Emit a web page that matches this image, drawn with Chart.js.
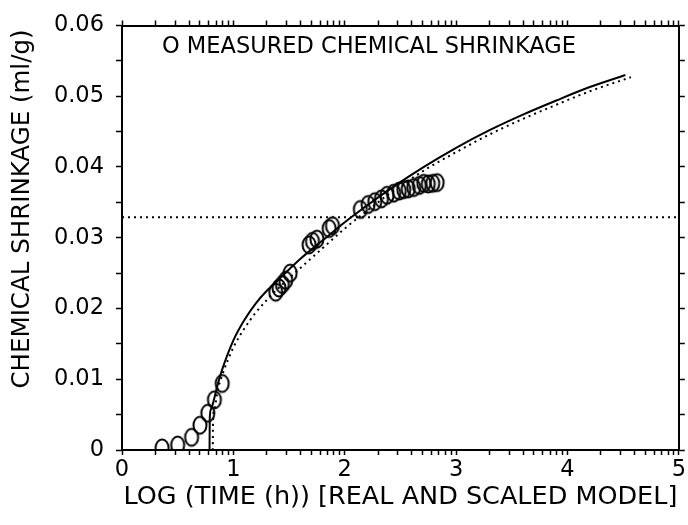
<!DOCTYPE html>
<html>
<head>
<meta charset="utf-8">
<script src="https://cdn.jsdelivr.net/npm/chart.js@4/dist/chart.umd.min.js"></script>
<style>
  body { margin: 0; background: #fff; }
</style>
</head>
<body>
<canvas id="grafico" width="688" height="525"></canvas>
<script>
// measured points, log10(time in h) vs ml/g
const medidoX = [0.36, 0.50, 0.625, 0.70, 0.77, 0.83, 0.90, 1.38, 1.41, 1.44, 1.47, 1.51, 1.68, 1.71, 1.75, 1.86, 1.89, 2.14, 2.21, 2.27, 2.33, 2.38, 2.44, 2.49, 2.53, 2.57, 2.62, 2.67, 2.71, 2.75, 2.79, 2.83];
const medidoY = [0.0003, 0.0007, 0.0018, 0.0035, 0.0052, 0.0071, 0.0094, 0.0223, 0.0229, 0.0234, 0.0240, 0.0250, 0.0290, 0.0295, 0.0298, 0.0313, 0.0317, 0.0340, 0.0347, 0.0351, 0.0355, 0.0360, 0.0363, 0.0366, 0.0368, 0.0369, 0.0371, 0.0374, 0.0377, 0.0376, 0.0377, 0.0378];

// real model (solid)
const realX = [0.786, 0.788, 0.80, 0.83, 0.86, 0.90, 1.00, 1.10, 1.20, 1.30, 1.40, 1.60, 1.80, 2.00, 2.10, 2.40, 2.70, 3.00, 3.30, 3.60, 3.90, 4.20, 4.52];
const realY = [0, 0.0045, 0.0058, 0.0074, 0.0093, 0.0114, 0.0155, 0.0184, 0.0207, 0.0225, 0.0240, 0.0270, 0.0296, 0.0322, 0.0334, 0.0368, 0.0399, 0.0427, 0.0452, 0.0474, 0.0494, 0.0513, 0.0530];

// scaled model (dotted)
const escX = [0.815, 0.817, 0.83, 0.86, 0.90, 1.00, 1.10, 1.20, 1.30, 1.40, 1.60, 1.80, 2.00, 2.20, 2.40, 2.70, 3.00, 3.30, 3.60, 3.90, 4.20, 4.57];
const escY = [0, 0.0040, 0.0058, 0.0085, 0.0106, 0.0145, 0.0172, 0.0194, 0.0212, 0.0228, 0.0257, 0.0285, 0.0313, 0.0338, 0.0362, 0.0394, 0.0421, 0.0446, 0.0468, 0.0488, 0.0507, 0.0527];

// horizontal reference line
const patamarX = [0, 5];
const patamarY = [0.0329, 0.0329];

const xMajor = [0, 1, 2, 3, 4, 5];
const xMinor = [2, 3, 4, 5, 6, 7, 8, 9];

const fonte = '"DejaVu Sans", Verdana, sans-serif';

function pontos(xs, ys) {
  return xs.map((x, i) => ({ x: x, y: ys[i] }));
}

function ticksLog(scale) {
  let lista = [];
  xMajor.forEach(d => {
    lista.push({ value: d });
    if (d < 5) xMinor.forEach(k => lista.push({ value: d + Math.log10(k) }));
  });
  scale.ticks = lista;
}

// ellipse marker like the plotter circles
const anel = document.createElement('canvas');
anel.width = 18; anel.height = 22;
const actx = anel.getContext('2d');
actx.strokeStyle = '#000';
actx.lineWidth = 2;
actx.beginPath();
actx.ellipse(9, 11, 6.5, 8.5, 0, 0, Math.PI * 2);
actx.stroke();

const textos = {
  id: 'textos',
  afterDraw(chart) {
    const ctx = chart.ctx;
    ctx.save();
    ctx.fillStyle = '#000';
    ctx.font = '22.5px ' + fonte;
    ctx.textBaseline = 'middle';
    ctx.fillText('O MEASURED CHEMICAL SHRINKAGE', 162, 47);
    // y title, sits a little above the axis centre in the original
    ctx.translate(23, 209);
    ctx.rotate(-Math.PI / 2);
    ctx.textAlign = 'center';
    ctx.font = '24.5px ' + fonte;
    ctx.fillText('CHEMICAL SHRINKAGE (ml/g)', 0, 0);
    ctx.restore();
  }
};

const eixoBase = {
  type: 'linear',
  min: 0,
  max: 5,
  grid: { drawOnChartArea: false, color: '#000', tickLength: 5, tickWidth: 1.5 },
  border: { color: '#000', width: 2 },
  afterBuildTicks: ticksLog
};

new Chart(document.getElementById('grafico'), {
  type: 'scatter',
  data: {
    datasets: [
      {
        label: 'Real model',
        type: 'line',
        data: pontos(realX, realY),
        borderColor: '#000',
        borderWidth: 2,
        pointRadius: 0,
        cubicInterpolationMode: 'monotone'
      },
      {
        label: 'Scaled model',
        type: 'line',
        data: pontos(escX, escY),
        borderColor: '#000',
        borderWidth: 2,
        borderDash: [2, 4],
        pointRadius: 0,
        cubicInterpolationMode: 'monotone'
      },
      {
        label: 'Plateau',
        type: 'line',
        data: pontos(patamarX, patamarY),
        borderColor: '#000',
        borderWidth: 2,
        borderDash: [2, 4],
        pointRadius: 0
      },
      {
        label: 'Measured chemical shrinkage',
        data: pontos(medidoX, medidoY),
        pointStyle: anel,
        pointRadius: 8
      }
    ]
  },
  options: {
    responsive: false,
    animation: false,
    layout: { padding: 0 },
    plugins: { legend: { display: false }, tooltip: { enabled: false } },
    scales: {
      x: Object.assign({}, eixoBase, {
        position: 'bottom',
        ticks: {
          autoSkip: false,
          maxRotation: 0,
          padding: 2,
          color: '#000',
          font: { family: fonte, size: 22.5 },
          callback: v => Number.isInteger(v) ? String(v) : ''
        },
        title: {
          display: true,
          text: 'LOG (TIME (h)) [REAL AND SCALED MODEL]',
          color: '#000',
          font: { family: fonte, size: 25.5 },
          padding: { top: 0, bottom: 12 }
        },
        afterFit: s => { s.height = 75; }
      }),
      x2: Object.assign({}, eixoBase, {
        position: 'top',
        ticks: { display: false, autoSkip: false },
        afterFit: s => { s.height = 22; }
      }),
      y: {
        position: 'left',
        min: 0,
        max: 0.06,
        grid: { drawOnChartArea: false, color: '#000', tickLength: 6, tickWidth: 1.5 },
        border: { color: '#000', width: 2 },
        ticks: {
          stepSize: 0.005,
          padding: 12,
          color: '#000',
          font: { family: fonte, size: 22.5 },
          callback: v => {
            const n = Math.round(v * 200);
            if (n % 2 !== 0) return '';
            return n === 0 ? '0' : (n / 200).toFixed(2);
          }
        },
        afterFit: s => { s.width = 122; }
      },
      y2: {
        position: 'right',
        min: 0,
        max: 0.06,
        grid: { drawOnChartArea: false, color: '#000', tickLength: 6, tickWidth: 1.5 },
        border: { color: '#000', width: 2 },
        ticks: { display: false, stepSize: 0.005 },
        afterFit: s => { s.width = 6; }
      }
    }
  },
  plugins: [textos]
});
</script>
</body>
</html>
